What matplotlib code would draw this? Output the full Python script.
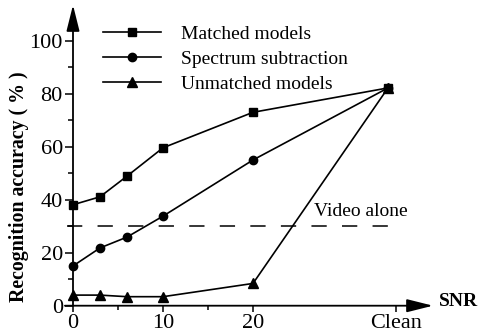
import matplotlib
matplotlib.use("Agg")
import matplotlib.pyplot as plt
from matplotlib.lines import Line2D

plt.rcParams['font.family'] = ['Liberation Serif', 'DejaVu Serif']

snr_pos = [0, 3, 6, 10, 20, 35]
matched = [38.1, 41.1, 48.9, 59.6, 73.0, 82.2]
spectrum = [15.0, 21.8, 25.9, 33.8, 55.0, 82.2]
unmatched = [4.0, 4.0, 3.4, 3.4, 8.4, 82.2]
video_alone = 30
xtick_pos = [0, 10, 20, 35.9]
xtick_labels = ['0', '10', '20', 'Clean']
xminor = [5, 15]
yticks = [0, 20, 40, 60, 80, 100]
yminor = [10, 30, 50, 70, 90]
series_labels = ['Matched models', 'Spectrum subtraction', 'Unmatched models']

fig = plt.figure(figsize=(4.79, 3.35), dpi=100)
ax = fig.add_axes([73/479, (335-305.7)/335, 360/479, 300.7/335])
ax.set_xlim(0, 40)
ax.set_ylim(0, 113.5)

lw = 1.2
ax.plot(snr_pos, matched, color='k', lw=lw, marker='s', ms=6, clip_on=False, zorder=3)
ax.plot(snr_pos, spectrum, color='k', lw=lw, marker='o', ms=6, clip_on=False, zorder=3)
ax.plot(snr_pos, unmatched, color='k', lw=lw, marker='^', ms=6.5, clip_on=False, zorder=3)

ax.plot([-0.7, 36.7], [video_alone, video_alone], color='k', lw=1.1,
        dashes=(10, 10), clip_on=False)
ax.text(32.0, 35.6, 'Video alone', fontsize=14, ha='center', va='center')

for s in ['top', 'right', 'left', 'bottom']:
    ax.spines[s].set_visible(False)

# axis arrows
ax.annotate('', xy=(40, 0), xytext=(-0.9, 0), xycoords='data',
            annotation_clip=False,
            arrowprops=dict(arrowstyle='-|>,head_length=1.6,head_width=0.4',
                            lw=1.3, color='k', mutation_scale=10,
                            shrinkA=0, shrinkB=0))
ax.annotate('', xy=(0, 113.5), xytext=(0, 0), xycoords='data',
            annotation_clip=False,
            arrowprops=dict(arrowstyle='-|>,head_length=1.6,head_width=0.4',
                            lw=1.3, color='k', mutation_scale=10,
                            shrinkA=0, shrinkB=0))

ax.set_xticks(xtick_pos)
ax.set_xticklabels(xtick_labels)
ax.set_xticks(xminor, minor=True)
ax.set_yticks(yticks)
ax.set_yticks(yminor, minor=True)
ax.tick_params(axis='both', which='major', labelsize=16, width=1.1, direction='out')
ax.tick_params(axis='x', which='major', length=4.3, pad=1.5)
ax.tick_params(axis='x', which='minor', length=2.9, width=1.1)
ax.tick_params(axis='y', which='major', length=5.8, pad=1.5)
ax.tick_params(axis='y', which='minor', length=3.6, width=1.1)

ax.set_ylabel('Recognition accuracy ( % )', fontsize=14.3, fontweight='bold')
ax.yaxis.set_label_coords(-0.122, 0.395)
fig.text(439/479, (335-302)/335, 'SNR', fontsize=14, fontweight='bold',
         ha='left', va='center')

handles = [Line2D([], [], color='k', lw=lw, marker='s', ms=6),
           Line2D([], [], color='k', lw=lw, marker='o', ms=6),
           Line2D([], [], color='k', lw=lw, marker='^', ms=6.5)]
leg = ax.legend(handles, series_labels, loc='upper left', frameon=False,
                fontsize=14, handlelength=3.0, handletextpad=1.0,
                labelspacing=0.38, borderpad=0, borderaxespad=0,
                bbox_to_anchor=(103/479, 1 - 25.5/335), bbox_transform=fig.transFigure)

fig.savefig('out.png', dpi=100)
